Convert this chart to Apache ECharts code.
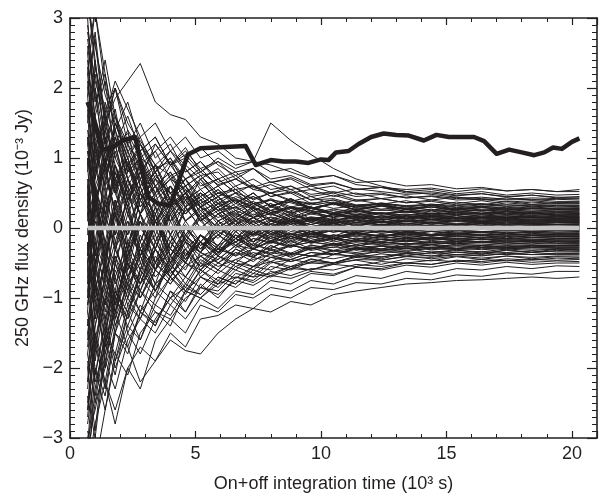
<!DOCTYPE html>
<html><head><meta charset="utf-8">
<script src="https://cdn.jsdelivr.net/npm/echarts@6/dist/echarts.min.js"></script>
<style>html,body{margin:0;padding:0;background:#fff}#c{width:600px;height:498px}</style>
</head><body><div id="c"></div>
<script>
const xTicks = [0, 5, 10, 15, 20];
const yTicks = [-3, -2, -1, 0, 1, 2, 3];
const xTitle = 'On+off integration time (10\u00B3 s)';
const yTitle = '250 GHz flux density (10\u207B\u00B3 Jy)';

// integration times (10^3 s) at which the thin running-average curves are sampled
const scanTimes = [0.7,1.0,1.4,1.8,2.3,2.8,3.4,4.0,4.6,5.2,5.9,6.6,7.3,8.0,8.8,9.6,10.5,11.4,12.4,13.4,14.4,15.4,16.4,17.4,18.4,19.4,20.3];

// thin curves (off-source positions), flux density in 10^-3 Jy
const thinLines = [
[2.8,2.1,1.6,1.2,1.35,1.0,0.85,0.95,0.7,0.8,0.62,0.7,0.58,0.66,0.55,0.6,0.5,0.56,0.52,0.48,0.5,0.46,0.49,0.44,0.47,0.43,0.45],
[-1.9,-2.4,-1.5,-1.8,-1.1,-1.3,-0.8,-1.0,-0.7,-0.85,-0.6,-0.72,-0.55,-0.48,-0.58,-0.45,-0.5,-0.4,-0.44,-0.36,-0.4,-0.34,-0.38,-0.31,-0.35,-0.3,-0.32],
[0.9,-0.6,0.4,1.1,0.5,0.2,0.7,0.3,0.55,0.1,0.35,0.4,0.15,0.3,0.22,0.08,0.2,0.16,0.1,0.18,0.12,0.15,0.09,0.14,0.11,0.13,0.12],
[-2.7,-1.6,-0.9,-1.3,-0.4,-0.8,-0.2,-0.55,-0.1,-0.35,0.05,-0.25,-0.1,0.02,-0.15,-0.05,-0.12,0.0,-0.08,-0.03,-0.1,-0.04,-0.07,-0.02,-0.06,-0.04,-0.05],
[1.5,2.2,1.3,0.6,0.95,0.4,0.75,0.5,0.2,0.45,0.6,0.35,0.5,0.3,0.42,0.25,0.36,0.3,0.34,0.26,0.32,0.27,0.3,0.25,0.29,0.27,0.28],
[0.6,-0.3,-1.2,-0.5,-0.9,-0.3,-0.6,-0.1,-0.45,-0.2,-0.38,-0.05,-0.25,-0.3,-0.12,-0.22,-0.15,-0.24,-0.16,-0.2,-0.14,-0.19,-0.16,-0.2,-0.17,-0.19,-0.18],
[-1.2,0.5,-0.4,0.3,-0.6,0.1,-0.3,0.25,-0.15,0.2,-0.05,0.12,-0.1,0.06,0.15,0.0,0.08,-0.02,0.06,0.01,0.05,0.02,0.06,0.0,0.04,0.02,0.03],
[3.2,2.6,1.9,1.5,1.1,1.25,0.9,0.75,0.85,0.6,0.7,0.5,0.62,0.45,0.52,0.4,0.47,0.38,0.42,0.36,0.4,0.35,0.39,0.34,0.37,0.35,0.36],
[-3.3,-2.5,-2.0,-1.5,-1.7,-1.2,-1.35,-1.0,-0.85,-0.95,-0.7,-0.8,-0.6,-0.68,-0.55,-0.6,-0.5,-0.46,-0.52,-0.44,-0.47,-0.41,-0.45,-0.4,-0.44,-0.41,-0.42],
[0.3,1.2,0.6,-0.2,0.4,0.7,0.1,0.35,0.5,0.15,0.3,0.05,0.2,0.12,0.02,0.14,0.06,0.12,0.04,0.1,0.07,0.11,0.06,0.09,0.07,0.08,0.08],
[1.8,0.9,0.2,0.6,-0.3,0.1,-0.5,-0.2,0.05,-0.3,-0.1,-0.25,-0.05,-0.18,-0.08,-0.2,-0.1,-0.16,-0.09,-0.14,-0.1,-0.13,-0.11,-0.14,-0.11,-0.12,-0.12],
[-0.8,-0.2,0.7,0.3,0.9,0.5,0.2,0.6,0.35,0.5,0.25,0.4,0.3,0.18,0.3,0.24,0.15,0.25,0.2,0.23,0.18,0.22,0.2,0.23,0.2,0.22,0.21],
[-2.2,-0.8,-1.6,-0.5,-1.1,-0.7,-0.3,-0.65,-0.45,-0.2,-0.5,-0.35,-0.42,-0.25,-0.38,-0.3,-0.22,-0.32,-0.26,-0.3,-0.24,-0.29,-0.25,-0.28,-0.26,-0.27,-0.27],
[2.4,1.1,1.7,0.8,0.4,0.9,0.6,0.25,0.5,0.3,0.45,0.2,0.35,0.22,0.3,0.12,0.2,0.16,0.22,0.14,0.18,0.13,0.17,0.15,0.16,0.14,0.15],
[-0.5,-1.9,-1.0,-0.4,-0.8,-0.1,-0.5,0.2,-0.2,-0.35,0.0,-0.15,0.1,-0.08,0.02,-0.1,-0.03,-0.07,0.01,-0.05,-0.01,-0.04,0.0,-0.03,-0.01,-0.02,-0.02],
[0.2,0.8,1.4,1.0,0.6,0.9,0.45,0.7,0.55,0.35,0.5,0.42,0.3,0.4,0.36,0.28,0.35,0.3,0.36,0.31,0.34,0.3,0.33,0.31,0.33,0.32,0.32],
[0.4,-1.0,-1.8,-1.2,-0.7,-1.0,-0.6,-0.8,-0.5,-0.65,-0.4,-0.55,-0.45,-0.38,-0.48,-0.4,-0.36,-0.42,-0.37,-0.4,-0.35,-0.38,-0.36,-0.38,-0.35,-0.37,-0.36],
[3.0,1.5,0.8,1.2,0.5,0.8,0.3,0.5,0.1,0.3,0.15,0.25,0.0,0.12,0.06,0.1,0.02,0.08,0.04,0.07,0.03,0.06,0.04,0.06,0.05,0.05,0.05],
[-1.4,-0.6,-1.1,-0.3,-0.7,-0.4,-0.9,-0.5,-0.3,-0.55,-0.35,-0.2,-0.38,-0.28,-0.18,-0.3,-0.22,-0.26,-0.2,-0.24,-0.21,-0.23,-0.2,-0.23,-0.21,-0.22,-0.22],
[-0.3,0.6,0.1,0.9,0.4,0.7,0.3,0.1,0.45,0.25,0.35,0.15,0.3,0.2,0.12,0.22,0.16,0.2,0.15,0.19,0.17,0.2,0.17,0.19,0.17,0.18,0.18],
[0.5,1.2,1.5,1.85,2.1,2.35,1.8,1.62,1.55,1.3,1.2,1.0,0.95,0.9,0.8,0.7,0.75,0.62,0.58,0.55,0.57,0.52,0.56,0.53,0.55,0.52,0.55],
[-3.2,-2.1,-1.4,-0.6,-1.0,-0.3,-0.6,0.1,-0.3,-0.1,-0.4,-0.15,-0.25,0.0,-0.12,-0.05,-0.15,-0.08,-0.12,-0.06,-0.1,-0.07,-0.09,-0.06,-0.08,-0.07,-0.08],
[1.1,0.4,0.9,1.3,0.7,0.3,0.6,0.8,0.4,0.55,0.3,0.45,0.35,0.25,0.38,0.3,0.22,0.29,0.25,0.28,0.23,0.27,0.24,0.26,0.24,0.26,0.25],
[-0.9,0.4,-0.5,-1.0,-0.2,-0.6,0.1,-0.4,-0.15,-0.5,-0.25,-0.1,-0.3,-0.18,-0.08,-0.2,-0.14,-0.19,-0.12,-0.17,-0.14,-0.16,-0.13,-0.16,-0.14,-0.15,-0.15],
[2.0,2.7,1.4,0.7,0.2,0.6,-0.1,0.3,0.45,0.1,-0.15,0.15,0.05,-0.05,0.1,0.0,0.06,-0.03,0.04,0.0,0.03,-0.01,0.02,0.0,0.02,0.01,0.01],
[-2.9,-3.4,-2.6,-1.9,-1.4,-1.6,-1.1,-1.25,-0.9,-1.0,-0.8,-0.7,-0.78,-0.62,-0.68,-0.58,-0.6,-0.52,-0.55,-0.5,-0.52,-0.47,-0.5,-0.46,-0.49,-0.47,-0.48],
[-1.6,-0.7,0.2,-0.3,0.5,0.0,0.4,-0.1,0.25,0.35,0.05,0.2,0.1,0.22,0.08,0.15,0.1,0.14,0.08,0.12,0.1,0.13,0.1,0.12,0.1,0.11,0.11],
[0.1,0.6,1.0,0.5,1.1,0.7,1.2,0.9,1.05,0.8,1.0,0.85,0.95,1.5,1.25,1.05,0.85,0.7,0.6,0.52,0.48,0.44,0.42,0.4,0.41,0.38,0.38],
[1.2,0.3,-0.6,-1.1,-0.5,-0.9,-0.4,-0.7,-0.3,-0.55,-0.45,-0.25,-0.4,-0.32,-0.38,-0.27,-0.33,-0.29,-0.32,-0.28,-0.31,-0.29,-0.31,-0.29,-0.3,-0.3,-0.3],
[0.7,-0.4,0.9,0.2,-0.3,0.4,0.1,-0.2,0.3,0.0,0.2,0.05,0.15,0.0,0.1,0.05,0.12,0.05,0.09,0.06,0.08,0.06,0.08,0.06,0.07,0.07,0.07],
[2.5,1.3,0.5,0.9,0.2,-0.3,0.1,-0.4,0.0,-0.25,-0.1,0.05,-0.2,-0.05,-0.15,-0.08,-0.12,-0.07,-0.11,-0.09,-0.11,-0.09,-0.1,-0.09,-0.1,-0.1,-0.1],
[-2.3,-1.2,-0.4,0.3,-0.1,0.5,0.2,0.6,0.3,0.45,0.2,0.35,0.28,0.2,0.3,0.25,0.2,0.24,0.21,0.23,0.2,0.22,0.21,0.23,0.21,0.22,0.22],
[-0.2,-1.3,-0.7,0.0,-0.5,-0.8,-0.3,-0.6,-0.2,-0.35,-0.45,-0.25,-0.3,-0.18,-0.26,-0.2,-0.24,-0.18,-0.22,-0.19,-0.21,-0.19,-0.21,-0.2,-0.2,-0.2,-0.2],
[1.7,0.8,1.3,0.6,0.9,0.4,0.7,0.5,0.2,0.4,0.25,0.3,0.15,0.25,0.18,0.12,0.2,0.15,0.17,0.13,0.16,0.14,0.15,0.13,0.15,0.14,0.14],
[-1.0,0.2,-0.7,-0.2,-0.9,-0.4,0.1,-0.3,-0.5,-0.1,-0.25,0.05,-0.12,-0.02,-0.1,0.0,-0.06,-0.02,-0.06,-0.03,-0.05,-0.03,-0.05,-0.04,-0.04,-0.04,-0.04],
[2.2,3.1,2.0,1.6,1.2,0.9,1.1,0.7,0.85,0.55,0.7,0.5,0.42,0.5,0.4,0.35,0.4,0.32,0.35,0.3,0.33,0.29,0.31,0.29,0.31,0.3,0.3],
[-1.5,-2.1,-1.3,-0.9,-1.2,-0.8,-0.5,-0.75,-0.55,-0.4,-0.55,-0.45,-0.35,-0.42,-0.36,-0.4,-0.33,-0.37,-0.34,-0.36,-0.33,-0.35,-0.34,-0.35,-0.33,-0.34,-0.34],
[-0.6,0.9,1.5,0.9,0.3,0.6,0.0,0.35,0.1,0.25,0.0,0.18,0.08,0.15,0.05,0.12,0.07,0.11,0.08,0.1,0.08,0.1,0.09,0.1,0.09,0.09,0.09],
[-3.5,-2.8,-2.2,-2.6,-2.0,-1.7,-1.9,-1.6,-1.75,-1.8,-1.5,-1.3,-1.15,-1.2,-1.05,-1.1,-0.95,-0.9,-0.85,-0.8,-0.78,-0.75,-0.74,-0.72,-0.7,-0.72,-0.7],
[0.5,-0.5,0.3,0.7,1.0,0.5,0.8,0.4,0.6,0.3,0.45,0.25,0.35,0.22,0.28,0.2,0.25,0.19,0.22,0.18,0.21,0.19,0.2,0.18,0.2,0.19,0.19],
[-2.6,-1.4,-0.8,-1.2,-0.6,-0.3,-0.7,-0.45,-0.2,-0.4,-0.3,-0.38,-0.22,-0.32,-0.25,-0.3,-0.24,-0.28,-0.25,-0.27,-0.24,-0.26,-0.25,-0.26,-0.25,-0.25,-0.25],
[1.4,0.6,-0.3,0.4,-0.5,0.2,-0.2,0.3,-0.1,0.15,-0.05,0.1,-0.08,0.06,0.0,0.05,-0.02,0.04,0.0,0.03,0.01,0.03,0.01,0.02,0.02,0.02,0.02],
[-0.4,0.7,1.4,2.0,1.5,1.2,0.8,1.0,0.7,0.85,0.6,0.7,0.55,0.5,0.6,0.48,0.52,0.45,0.48,0.43,0.46,0.42,0.44,0.41,0.43,0.42,0.42],
[0.9,2.0,0.8,0.2,-0.4,0.1,-0.6,-0.2,-0.45,-0.1,-0.3,-0.2,-0.05,-0.2,-0.12,-0.18,-0.1,-0.16,-0.13,-0.15,-0.13,-0.15,-0.14,-0.15,-0.14,-0.14,-0.14],
[-1.8,-0.9,-1.3,-0.5,0.2,-0.2,0.4,0.1,0.3,0.45,0.2,0.3,0.15,0.25,0.12,0.2,0.15,0.18,0.14,0.17,0.15,0.17,0.15,0.16,0.16,0.16,0.16],
[0.2,-0.8,-1.5,-0.7,-0.2,-0.6,0.2,-0.3,0.1,-0.2,0.05,-0.15,-0.05,-0.12,0.0,-0.08,-0.04,-0.08,-0.05,-0.07,-0.05,-0.07,-0.06,-0.06,-0.06,-0.06,-0.06],
[2.6,1.8,2.2,1.3,0.9,1.1,0.6,0.8,0.5,0.65,0.4,0.5,0.32,0.42,0.3,0.36,0.28,0.32,0.27,0.3,0.26,0.28,0.26,0.27,0.26,0.26,0.26],
[-0.7,-1.6,-2.3,-1.5,-1.0,-1.3,-0.8,-0.6,-0.85,-0.5,-0.65,-0.45,-0.55,-0.42,-0.48,-0.4,-0.44,-0.38,-0.41,-0.37,-0.4,-0.38,-0.39,-0.37,-0.38,-0.38,-0.38],
[-0.1,0.4,-0.5,0.3,0.7,0.2,0.5,-0.1,0.25,0.4,0.1,0.22,0.05,0.16,0.08,0.14,0.08,0.12,0.09,0.11,0.1,0.11,0.1,0.1,0.1,0.1,0.1],
[1.9,0.5,1.0,-0.1,0.4,-0.4,0.0,-0.5,-0.15,-0.35,-0.1,-0.28,-0.15,-0.22,-0.12,-0.2,-0.15,-0.19,-0.16,-0.18,-0.16,-0.17,-0.16,-0.17,-0.17,-0.17,-0.17],
[0.8,1.6,0.9,1.4,0.7,0.4,0.7,0.5,0.6,0.35,0.5,0.38,0.45,0.32,0.4,0.33,0.37,0.32,0.35,0.32,0.34,0.32,0.34,0.33,0.33,0.33,0.33],
[-2.4,-3.0,-1.8,-1.1,-0.5,-0.9,-0.3,-0.6,-0.1,-0.35,0.1,-0.15,0.05,-0.1,0.02,-0.05,0.0,-0.03,0.01,-0.02,0.0,-0.02,0.0,-0.01,-0.01,-0.01,-0.01],
[0.5,-0.5,0.1,-0.8,-0.3,-1.0,-0.5,-0.7,-0.35,-0.55,-0.25,-0.4,-0.3,-0.36,-0.24,-0.32,-0.27,-0.3,-0.26,-0.29,-0.27,-0.29,-0.28,-0.28,-0.28,-0.28,-0.28],
[3.4,2.4,1.2,1.6,0.8,1.0,0.5,0.75,0.4,0.55,0.3,0.42,0.25,0.35,0.22,0.28,0.2,0.25,0.2,0.23,0.2,0.22,0.2,0.21,0.2,0.2,0.2],
[0.0,-0.9,-0.2,-1.1,-0.4,0.2,-0.3,0.3,-0.1,0.2,0.0,0.15,-0.05,0.1,0.0,0.08,0.02,0.06,0.03,0.05,0.03,0.05,0.04,0.04,0.04,0.04,0.04],
[-1.2,-2.0,-2.6,-1.8,-2.1,-1.5,-1.2,-1.4,-0.9,-1.0,-0.75,-0.85,-0.65,-0.7,-0.58,-0.6,-0.52,-0.55,-0.48,-0.5,-0.46,-0.48,-0.45,-0.47,-0.45,-0.46,-0.45],
[1.2,2.3,1.6,0.7,1.0,0.4,0.6,0.2,0.45,0.3,0.1,0.25,0.15,0.2,0.1,0.16,0.12,0.15,0.12,0.14,0.12,0.14,0.13,0.13,0.13,0.13,0.13],
[-0.4,0.3,0.9,0.2,0.6,-0.2,0.3,-0.4,0.0,-0.25,-0.05,-0.2,-0.08,-0.15,-0.08,-0.13,-0.1,-0.12,-0.1,-0.12,-0.1,-0.11,-0.11,-0.11,-0.11,-0.11,-0.11],
[-1.0,-0.3,-0.8,0.1,0.6,0.2,0.5,0.7,0.3,0.5,0.35,0.28,0.38,0.25,0.3,0.22,0.27,0.23,0.26,0.23,0.25,0.23,0.25,0.24,0.24,0.24,0.24],
[2.1,1.2,0.3,0.7,-0.2,0.2,-0.5,-0.1,-0.4,-0.2,-0.35,-0.15,-0.3,-0.2,-0.26,-0.2,-0.25,-0.21,-0.24,-0.22,-0.23,-0.22,-0.23,-0.23,-0.23,-0.23,-0.23],
[-3.1,-1.8,-0.6,-1.2,-0.3,-0.7,0.1,-0.3,0.3,0.0,0.2,-0.05,0.15,0.02,0.12,0.0,0.1,0.03,0.09,0.02,0.08,0.04,0.09,0.03,0.07,0.05,0.06],
[1.0,0.3,1.1,0.6,1.3,0.8,0.5,0.9,0.6,0.75,0.45,0.6,0.4,0.5,0.38,0.45,0.33,0.4,0.34,0.39,0.32,0.37,0.33,0.38,0.34,0.36,0.35],
[-0.3,-1.1,-0.5,-1.4,-0.8,-0.5,-0.9,-0.55,-0.7,-0.4,-0.6,-0.35,-0.48,-0.3,-0.42,-0.28,-0.38,-0.3,-0.36,-0.29,-0.35,-0.31,-0.36,-0.32,-0.35,-0.32,-0.33],
[2.9,2.0,1.2,0.5,0.9,0.3,0.6,0.1,0.4,0.15,0.35,0.1,0.28,0.12,0.24,0.1,0.2,0.13,0.21,0.14,0.2,0.15,0.19,0.15,0.18,0.16,0.17],
[-1.7,-0.6,0.4,-0.3,0.3,-0.5,0.1,-0.4,-0.1,-0.3,0.05,-0.2,0.0,-0.15,-0.02,-0.12,-0.03,-0.1,-0.04,-0.1,-0.05,-0.09,-0.05,-0.08,-0.06,-0.08,-0.07],
[-0.5,0.5,0.0,0.8,0.3,1.0,0.6,0.4,0.7,0.45,0.6,0.35,0.5,0.3,0.42,0.28,0.36,0.26,0.33,0.27,0.32,0.27,0.31,0.28,0.3,0.28,0.29],
[1.3,0.4,-0.4,0.2,-0.7,-0.2,-0.6,-0.3,-0.5,-0.1,-0.35,-0.15,-0.3,-0.12,-0.25,-0.15,-0.23,-0.16,-0.22,-0.17,-0.21,-0.17,-0.2,-0.18,-0.2,-0.18,-0.19],
[-2.0,-2.9,-1.6,-2.1,-1.2,-0.7,-1.0,-0.4,-0.6,-0.2,-0.4,-0.1,-0.2,0.05,-0.1,0.02,-0.06,0.03,-0.04,0.02,-0.03,0.02,-0.02,0.01,-0.01,0.01,0.0],
[-0.9,-1.5,-2.2,-2.8,-2.0,-2.3,-1.6,-1.3,-1.5,-1.1,-1.2,-0.95,-1.0,-0.85,-0.9,-0.75,-0.8,-0.68,-0.72,-0.62,-0.66,-0.58,-0.6,-0.55,-0.58,-0.54,-0.55],
[1.6,0.5,-0.2,0.4,-0.1,0.5,0.1,0.45,0.2,0.5,0.25,0.4,0.18,0.32,0.2,0.3,0.19,0.27,0.2,0.26,0.21,0.25,0.21,0.24,0.22,0.24,0.23],
[-0.6,-1.7,-1.0,-1.5,-0.7,-0.3,-0.8,-0.2,-0.5,-0.1,-0.35,-0.05,-0.25,-0.08,-0.2,-0.08,-0.17,-0.1,-0.16,-0.1,-0.15,-0.11,-0.15,-0.12,-0.14,-0.12,-0.13],
[1.9,2.8,1.5,2.0,1.2,1.5,1.0,1.2,0.8,0.95,0.65,0.75,0.55,0.62,0.5,0.55,0.45,0.5,0.42,0.46,0.4,0.44,0.4,0.43,0.4,0.41,0.4],
[0.6,1.4,0.7,1.2,0.4,0.8,0.1,0.4,-0.2,0.15,-0.3,0.0,-0.2,-0.02,-0.16,-0.05,-0.14,-0.06,-0.12,-0.07,-0.11,-0.08,-0.1,-0.08,-0.1,-0.09,-0.09],
[-2.5,-1.5,-2.0,-1.0,-0.5,-0.8,-0.2,-0.5,0.0,-0.2,0.1,-0.05,0.15,0.02,0.12,0.05,0.14,0.07,0.13,0.09,0.13,0.1,0.13,0.11,0.12,0.11,0.12],
[-3.4,-2.3,-1.5,-0.9,-1.3,-0.6,-0.9,-0.4,-0.7,-0.35,-0.5,-0.3,-0.42,-0.25,-0.36,-0.24,-0.32,-0.24,-0.3,-0.25,-0.29,-0.25,-0.28,-0.25,-0.27,-0.26,-0.26],
[0.3,-0.4,0.5,-0.1,0.7,0.2,0.9,0.5,0.7,0.4,0.55,0.3,0.45,0.32,0.38,0.28,0.34,0.26,0.31,0.27,0.3,0.26,0.29,0.27,0.28,0.27,0.27],
[2.3,1.6,2.1,1.0,1.4,0.6,0.8,0.3,0.5,0.1,0.3,0.0,0.15,-0.05,0.08,-0.06,0.04,-0.05,0.02,-0.04,0.0,-0.04,-0.01,-0.03,-0.02,-0.03,-0.03],
[-1.1,-0.5,-1.3,-1.9,-1.2,-1.6,-1.0,-0.7,-0.95,-0.6,-0.8,-0.55,-0.65,-0.48,-0.55,-0.44,-0.5,-0.42,-0.46,-0.4,-0.44,-0.4,-0.43,-0.4,-0.42,-0.4,-0.4],
[-0.2,-1.3,-0.5,-0.9,0.0,-0.4,0.3,-0.1,0.4,0.1,0.3,0.05,0.25,0.1,0.2,0.1,0.19,0.12,0.17,0.13,0.17,0.13,0.16,0.14,0.16,0.14,0.15],
[1.0,0.2,1.3,0.5,0.0,0.5,-0.2,0.2,-0.4,-0.1,-0.35,-0.1,-0.28,-0.12,-0.22,-0.12,-0.2,-0.14,-0.19,-0.14,-0.18,-0.15,-0.17,-0.15,-0.17,-0.16,-0.16],
[1.3,0.7,1.8,1.2,1.6,1.1,1.3,0.9,1.15,0.8,0.95,0.7,0.85,0.65,0.72,0.6,0.64,0.55,0.58,0.52,0.55,0.49,0.52,0.47,0.5,0.47,0.48],
[-2.0,-1.1,-1.7,-1.0,-1.4,-0.9,-1.2,-1.3,-1.0,-0.85,-0.95,-0.75,-0.82,-0.68,-0.72,-0.62,-0.66,-0.56,-0.6,-0.53,-0.56,-0.5,-0.53,-0.49,-0.52,-0.5,-0.5],
[2.7,1.9,1.0,1.4,0.9,1.2,0.7,0.95,0.5,0.7,0.35,0.5,0.25,0.35,0.15,0.25,0.1,0.18,0.08,0.14,0.07,0.12,0.08,0.11,0.08,0.1,0.09],
[-0.8,0.1,-0.4,-1.0,-1.3,-0.9,-1.1,-0.7,-0.9,-0.6,-0.75,-0.5,-0.6,-0.42,-0.45,-0.35,-0.38,-0.3,-0.32,-0.26,-0.28,-0.23,-0.25,-0.21,-0.23,-0.2,-0.21],
[0.4,1.1,0.6,1.5,1.0,1.3,0.8,1.1,0.9,0.7,0.85,0.6,0.7,0.55,0.6,0.45,0.5,0.4,0.42,0.36,0.38,0.33,0.35,0.31,0.33,0.3,0.31],
[-1.3,-2.2,-1.7,-0.9,-1.2,-0.6,-0.9,-0.5,-0.8,-0.45,-0.6,-0.3,-0.42,-0.2,-0.28,-0.12,-0.18,-0.08,-0.12,-0.05,-0.09,-0.03,-0.06,-0.03,-0.05,-0.03,-0.04],
[3.3,2.3,1.7,2.0,1.4,1.1,1.3,0.9,1.0,0.75,0.8,0.55,0.6,0.45,0.5,0.35,0.4,0.28,0.32,0.23,0.27,0.2,0.23,0.19,0.21,0.18,0.19],
[0.2,-0.9,-0.3,-0.7,-1.5,-1.1,-1.4,-0.9,-1.2,-0.8,-1.0,-0.7,-0.75,-0.55,-0.6,-0.48,-0.5,-0.4,-0.42,-0.35,-0.37,-0.32,-0.34,-0.3,-0.32,-0.3,-0.31],
[-0.7,0.3,1.0,0.5,1.2,0.7,0.9,0.4,0.6,0.2,0.4,0.1,0.25,0.0,0.15,-0.05,0.08,-0.04,0.05,-0.02,0.04,0.0,0.03,0.01,0.03,0.01,0.02],
[-2.8,-2.0,-2.4,-1.5,-1.8,-1.2,-1.4,-0.9,-1.05,-0.7,-0.8,-0.5,-0.55,-0.35,-0.4,-0.25,-0.28,-0.18,-0.2,-0.14,-0.16,-0.12,-0.14,-0.11,-0.13,-0.12,-0.12],
[-1.1,-0.2,-0.6,0.3,0.8,1.2,0.9,1.1,0.8,0.95,0.7,0.8,0.6,0.5,0.55,0.4,0.42,0.33,0.35,0.27,0.3,0.24,0.26,0.21,0.23,0.2,0.21],
[1.6,2.4,1.2,1.7,0.8,1.0,0.4,0.6,0.1,0.3,-0.1,0.1,-0.2,-0.05,-0.18,-0.08,-0.15,-0.07,-0.13,-0.08,-0.12,-0.08,-0.11,-0.08,-0.1,-0.09,-0.09],
[-0.4,0.5,0.2,0.9,0.5,0.8,1.1,1.3,1.0,1.15,0.9,0.75,0.85,0.65,0.7,0.55,0.6,0.48,0.5,0.43,0.45,0.4,0.41,0.37,0.39,0.36,0.37],
[-1.5,-0.7,-1.9,-1.3,-0.8,-1.2,-0.9,-1.1,-1.3,-1.0,-1.15,-0.9,-0.95,-0.75,-0.8,-0.65,-0.68,-0.56,-0.58,-0.5,-0.52,-0.46,-0.48,-0.44,-0.46,-0.43,-0.44],
[0.9,1.7,2.4,1.6,1.1,0.6,0.9,0.4,0.7,0.3,0.45,0.15,0.3,0.05,0.18,0.0,0.12,0.02,0.1,0.03,0.08,0.04,0.07,0.05,0.07,0.05,0.06],
[-3.0,-2.6,-1.9,-2.3,-1.6,-1.3,-1.5,-1.1,-0.8,-0.95,-0.7,-0.8,-0.55,-0.6,-0.45,-0.5,-0.38,-0.4,-0.32,-0.34,-0.28,-0.3,-0.26,-0.27,-0.25,-0.25,-0.24],
[0.6,-0.2,-0.9,-0.4,-1.0,-0.6,-0.3,-0.7,-0.4,-0.1,-0.3,0.0,-0.1,0.1,0.05,0.15,0.1,0.17,0.12,0.16,0.13,0.15,0.13,0.15,0.14,0.14,0.14],
[2.0,1.4,0.9,1.3,0.7,1.0,1.2,0.9,1.1,0.85,0.95,0.8,0.85,0.7,0.75,0.62,0.65,0.55,0.58,0.5,0.52,0.47,0.49,0.45,0.47,0.44,0.44],
[0.0,-0.7,-1.4,-2.0,-1.5,-1.8,-1.3,-1.0,-1.2,-0.85,-0.9,-0.65,-0.7,-0.5,-0.45,-0.35,-0.38,-0.28,-0.3,-0.22,-0.24,-0.19,-0.2,-0.17,-0.18,-0.15,-0.15],
[-0.3,0.4,-0.2,-0.5,0.1,-0.4,-0.8,-0.6,-0.9,-0.7,-0.85,-0.6,-0.7,-0.65,-0.55,-0.5,-0.52,-0.45,-0.46,-0.41,-0.42,-0.38,-0.4,-0.36,-0.38,-0.36,-0.36],
[-2.2,-1.4,-0.7,-1.1,-0.4,0.0,-0.3,0.2,0.5,0.3,0.55,0.35,0.5,0.3,0.42,0.28,0.35,0.25,0.32,0.26,0.3,0.26,0.29,0.27,0.28,0.27,0.27],
[1.1,0.3,0.9,1.5,1.0,0.5,0.8,0.3,0.5,0.1,0.25,-0.05,0.1,-0.1,0.02,-0.08,0.0,-0.06,-0.02,-0.05,-0.02,-0.04,-0.02,-0.03,-0.02,-0.02,-0.02],
[-0.2,-1.0,-0.5,0.2,-0.3,0.4,0.0,0.6,0.3,0.7,0.45,0.55,0.35,0.4,0.25,0.3,0.18,0.22,0.14,0.17,0.12,0.14,0.11,0.13,0.11,0.12,0.11],
[2.2,1.0,0.2,-0.3,0.1,-0.4,-0.1,-0.6,-0.3,-0.7,-0.5,-0.6,-0.42,-0.48,-0.36,-0.4,-0.32,-0.35,-0.3,-0.32,-0.29,-0.31,-0.29,-0.3,-0.28,-0.29,-0.29],
[0.2,1.0,1.6,2.1,1.7,1.3,1.5,1.1,1.3,1.0,1.1,0.9,0.95,0.8,0.85,0.72,0.75,0.65,0.67,0.6,0.62,0.56,0.58,0.53,0.55,0.52,0.52],
[-1.8,-2.5,-1.6,-1.2,-1.7,-2.2,-1.9,-1.5,-1.7,-1.3,-1.25,-1.1,-1.15,-0.95,-1.0,-0.85,-0.88,-0.78,-0.8,-0.72,-0.74,-0.67,-0.69,-0.64,-0.66,-0.62,-0.62],
[-1.4,-0.5,-1.1,-0.3,-0.8,-1.0,-0.6,-0.8,-0.5,-0.6,-0.3,-0.4,-0.15,-0.2,-0.05,-0.1,0.0,-0.04,0.02,-0.01,0.03,0.0,0.03,0.01,0.03,0.02,0.03],
[2.5,3.1,2.2,1.4,1.8,1.2,0.8,1.0,0.6,0.75,0.5,0.55,0.35,0.4,0.28,0.3,0.22,0.24,0.18,0.2,0.16,0.18,0.15,0.17,0.15,0.16,0.16],
[-0.5,0.6,0.0,0.8,0.3,-0.3,0.2,-0.5,-0.2,-0.6,-0.4,-0.5,-0.3,-0.38,-0.25,-0.3,-0.22,-0.26,-0.2,-0.23,-0.19,-0.21,-0.19,-0.2,-0.19,-0.19,-0.19],
[-2.6,-1.7,-2.2,-1.4,-0.9,-1.2,-0.6,-0.3,-0.5,-0.1,-0.25,0.05,-0.1,0.1,0.0,0.12,0.04,0.1,0.05,0.09,0.06,0.09,0.07,0.08,0.07,0.08,0.08]
];

// thick curve (source position)
const thickX = [0.7,1.0,1.3,1.7,2.1,2.6,3.1,3.5,4.0,4.7,5.2,5.8,6.4,7.0,7.4,8.0,8.5,9.0,9.5,10.0,10.3,10.6,11.1,11.5,12.0,12.5,13.0,13.5,14.1,14.6,15.1,15.6,16.1,16.5,17.0,17.5,18.0,18.5,18.9,19.25,19.6,20.0,20.3];
const thickY = [1.8,1.5,1.12,1.15,1.25,1.3,0.45,0.35,0.32,1.05,1.14,1.15,1.16,1.17,0.9,0.97,0.95,0.95,0.93,0.98,0.97,1.08,1.1,1.2,1.3,1.35,1.33,1.32,1.25,1.33,1.3,1.3,1.3,1.24,1.06,1.12,1.08,1.04,1.08,1.15,1.13,1.23,1.28];

// zero reference (grey)
const zeroX = [0.7, 20.3];
const zeroY = [0, 0];

const FONT = "'Liberation Sans', Arial, Helvetica, sans-serif";
const INK = '#231f20';
const zip = (xs, ys) => xs.slice(0, Math.min(xs.length, ys.length)).map((x, i) => [x, ys[i]]);
const fmtNum = v => (v < 0 ? '\u2212' + Math.abs(v) : String(v));
const fmtX = v => (xTicks.indexOf(v) >= 0 ? fmtNum(v) : '');
const fmtY = v => (yTicks.indexOf(v) >= 0 ? fmtNum(v) : '');

const series = [];
thinLines.forEach(ln => series.push({
  type: 'line', data: zip(scanTimes, ln), symbol: 'none', silent: true,
  lineStyle: { color: INK, width: 1 }, z: 2, clip: true
}));
series.push({ type: 'line', data: zip(zeroX, zeroY), symbol: 'none', silent: true,
  lineStyle: { color: '#c4c4c4', width: 4.5 }, z: 3 });
series.push({ type: 'line', data: zip(thickX, thickY), symbol: 'none', silent: true,
  lineStyle: { color: INK, width: 4.5, join: 'round' }, z: 4 });

const axLine = { show: true, onZero: false, lineStyle: { color: INK, width: 1.6 } };
const xCommon = {
  type: 'value', min: 0, max: 21, interval: 5,
  axisLine: axLine, splitLine: { show: false },
  axisTick: { show: true, inside: true, length: 7, lineStyle: { color: INK, width: 1.2 } },
  minorTick: { show: true, splitNumber: 5, length: 4, lineStyle: { color: INK, width: 1 } }
};
const yCommon = {
  type: 'value', min: -3, max: 3, interval: 1,
  axisLine: axLine, splitLine: { show: false },
  axisTick: { show: true, inside: true, length: 10, lineStyle: { color: INK, width: 1.2 } },
  minorTick: { show: true, splitNumber: 10, length: 5, lineStyle: { color: INK, width: 1 } }
};

const chart = echarts.init(document.getElementById('c'), null, { renderer: 'canvas' });
chart.setOption({
  animation: false,
  backgroundColor: '#fff',
  grid: { left: 70, right: 3, top: 18, bottom: 50, containLabel: false },
  xAxis: [
    Object.assign({}, xCommon, {
      position: 'bottom',
      axisLabel: { show: true, color: INK, fontFamily: FONT, fontSize: 18, margin: 7,
        showMaxLabel: false, formatter: fmtX },
      name: xTitle, nameLocation: 'middle', nameGap: 37,
      nameTextStyle: { color: INK, fontFamily: FONT, fontSize: 18 }
    }),
    Object.assign({}, xCommon, { position: 'top', axisLabel: { show: false } })
  ],
  yAxis: [
    Object.assign({}, yCommon, {
      position: 'left',
      axisLabel: { show: true, color: INK, fontFamily: FONT, fontSize: 18, margin: 7,
        formatter: fmtY },
      name: yTitle, nameLocation: 'middle', nameGap: 29, nameRotate: 90,
      nameTextStyle: { color: INK, fontFamily: FONT, fontSize: 18 }
    }),
    Object.assign({}, yCommon, { position: 'right', axisLabel: { show: false } })
  ],
  series: series
});
</script>
</body></html>
